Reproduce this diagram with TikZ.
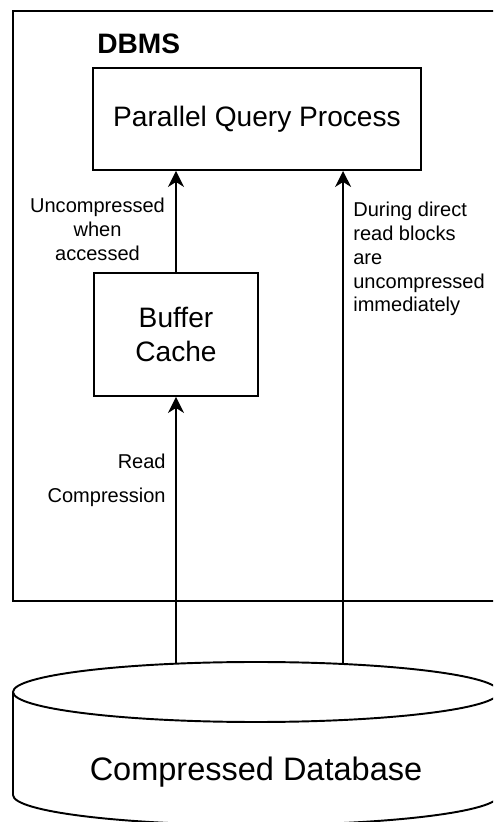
\documentclass[tikz,border=0pt]{standalone}
\usepackage{fontspec}
\setmainfont{Liberation Sans}
\usepackage{tikz}
\usetikzlibrary{calc,arrows.meta,positioning}
\tikzset{
  ar/.style={-{Stealth[length=3.2mm,width=3.2mm,inset=1mm]},line width=1pt},
  box/.style={draw,line width=1.1pt,align=center,inner sep=0pt,font=\fontsize{16}{19.3}\selectfont},
  lbl/.style={font=\fontsize{11.4}{13.6}\selectfont,inner sep=0pt}
}

\begin{document}
\begin{tikzpicture}
\useasboundingbox (0,0) rectangle (9.86,16.44);
\clip (0,0) rectangle (9.86,16.44);
\draw[line width=1.2pt] (0.26,4.42) rectangle (10.4,16.22);
\node[font=\fontsize{16}{19}\selectfont\bfseries,anchor=west,inner sep=0pt] (dbms) at (1.94,15.56) {DBMS};
\node[box,minimum width=6.56cm,minimum height=2.04cm] (pqp) at (5.14,14.06) {Parallel Query Process};
\node[box,minimum width=3.28cm,minimum height=2.46cm] (bc) at (3.52,9.75) {Buffer\\Cache};
% database cylinder
\coordinate (dbtop) at (5.12,2.6);
\draw[line width=1.1pt] (0.26,2.6) -- (0.26,0.54) arc (180:360:4.86 and 0.6) -- (9.98,2.6);
\draw[line width=1.1pt] (dbtop) ellipse [x radius=4.86, y radius=0.6];
\node[font=\fontsize{18.5}{22}\selectfont,inner sep=0pt] (db) at (5.12,1.0) {Compressed Database};
\coordinate (dbL) at ($(dbtop)+(109.2:4.86 and 0.6)$);
\coordinate (dbR) at ($(dbtop)+(69:4.86 and 0.6)$);
\draw[ar] (dbL) -- (bc.south);
\draw[ar] (bc.north) -- (bc.north |- pqp.south);
\draw[ar] (dbR) -- (dbR |- pqp.south);
\node[lbl,align=center] (uncomp) at (1.95,11.86) {Uncompressed\\when\\accessed};
\node[lbl,align=left,anchor=west] (direct) at (7.06,11.26) {During direct\\read blocks\\are\\uncompressed\\immediately};
\node[lbl,anchor=east] (read) at (3.32,7.22) {Read};
\node[lbl,anchor=east] (compr) at (3.32,6.49) {Compression};
\end{tikzpicture}
\end{document}
